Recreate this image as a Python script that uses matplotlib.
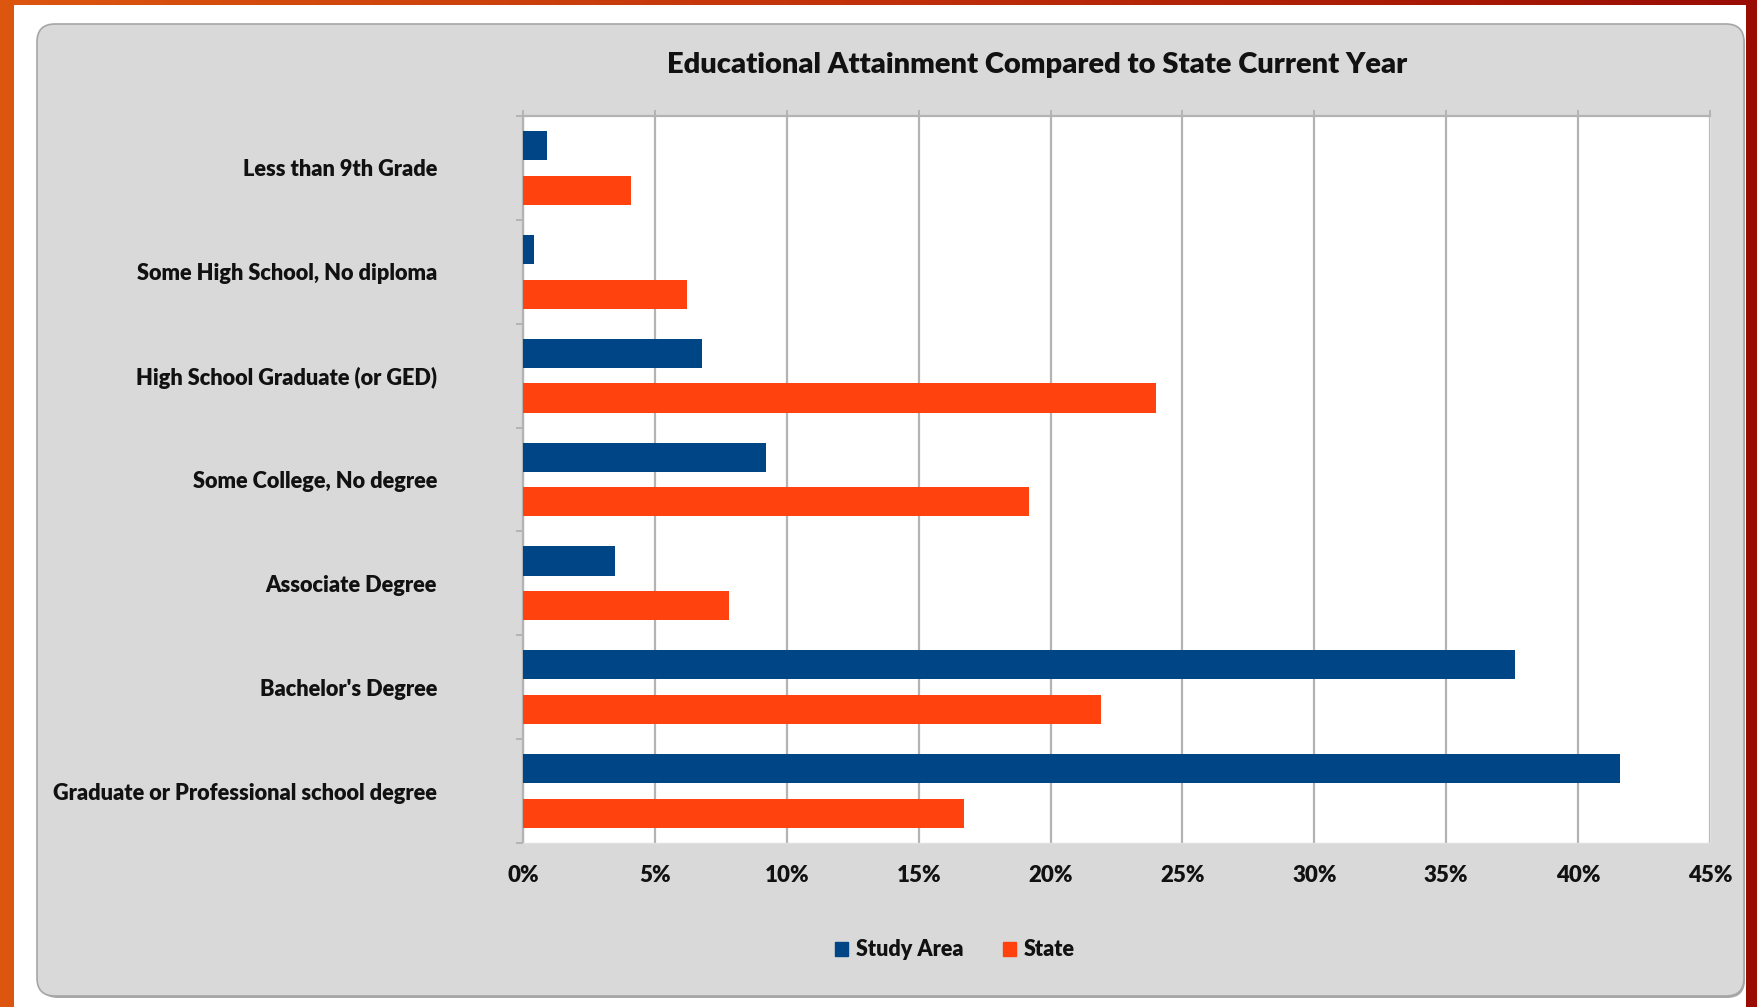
import matplotlib
matplotlib.use("Agg")
import matplotlib.pyplot as plt
import numpy as np
from matplotlib.patches import FancyBboxPatch, Rectangle, Patch

plt.rcParams['font.family'] = ['Lato', 'DejaVu Sans']
plt.rcParams['font.weight'] = 'bold'

# data
categories = ["Less than 9th Grade", "Some High School, No diploma",
              "High School Graduate (or GED)", "Some College, No degree",
              "Associate Degree", "Bachelor's Degree",
              "Graduate or Professional school degree"]
study_area = [0.9, 0.4, 6.8, 9.2, 3.5, 37.6, 41.6]
state = [4.1, 6.2, 24.0, 19.2, 7.8, 21.9, 16.7]
x_ticks = [0, 5, 10, 15, 20, 25, 30, 35, 40, 45]
x_labels = ["%d%%" % t for t in x_ticks]

blue = "#004586"
orange = "#ff420e"
grid_c = "#b3b3b3"
txt_c = "#111111"

W, H = 1757, 1007
fig = plt.figure(figsize=(W / 100, H / 100), dpi=100)

# background: orange/red frame with white page
bg = fig.add_axes([0, 0, 1, 1], zorder=-10)
bg.set_xlim(0, W)
bg.set_ylim(H, 0)
bg.axis('off')
grad = np.linspace(0, 1, 256).reshape(1, -1)
cmap = matplotlib.colors.LinearSegmentedColormap.from_list("frame", ["#dc560f", "#c0300a", "#9a0c02"])
bg.imshow(grad, extent=[0, W, H, 0], aspect='auto', cmap=cmap)
bg.add_patch(Rectangle((14, 5), 1746 - 14, H - 5, facecolor='white', edgecolor='none'))
# grey rounded panel with a light shadow
bg.add_patch(FancyBboxPatch((40, 27), 1745 - 40, 998 - 27,
                            boxstyle="round,pad=0,rounding_size=18",
                            facecolor="#a8a8a8", edgecolor='none'))
bg.add_patch(FancyBboxPatch((37, 24), 1744 - 37, 996 - 24,
                            boxstyle="round,pad=0,rounding_size=18",
                            facecolor="#d9d9d9", edgecolor="#a6a6a6", linewidth=1.2))

# plot area
ax = fig.add_axes([523 / W, 1 - 843 / H, (1710 - 523) / W, (843 - 116) / H])
ax.set_facecolor('white')
y = np.arange(len(categories))
off = 0.215
ax.barh(y - off, study_area, height=0.28, color=blue, label="Study Area", zorder=3)
ax.barh(y + off, state, height=0.28, color=orange, label="State", zorder=3)

ax.set_xlim(0, 45)
ax.set_ylim(len(categories) - 0.5, -0.5)
ax.set_xticks(x_ticks)
ax.set_xticklabels(x_labels, fontsize=16, fontweight='heavy', color=txt_c)
ax.set_yticks(y)
ax.set_yticklabels(categories, fontsize=15.7, fontweight='heavy', color=txt_c)
ax.set_yticks(np.arange(-0.5, len(categories)), minor=True)
ax.grid(axis='x', color=grid_c, linewidth=1.6, zorder=0)
ax.tick_params(axis='x', which='major', top=True, bottom=False, labeltop=False,
               labelbottom=True, direction='out', length=4, color=grid_c, width=1.4, pad=12)
ax.tick_params(axis='y', which='major', length=0, pad=62)
ax.tick_params(axis='y', which='minor', length=5, color=grid_c, width=1.4)
for lbl in ax.get_yticklabels():
    lbl.set_y(lbl.get_position()[1])
for s in ['right', 'bottom']:
    ax.spines[s].set_color('#e0e0e0')
    ax.spines[s].set_linewidth(1.0)
for s in ['top', 'left']:
    ax.spines[s].set_color(grid_c)
    ax.spines[s].set_linewidth(1.6)

fig.text(1037 / W, 1 - 65 / H, "Educational Attainment Compared to State Current Year",
         ha='center', va='center', fontsize=21, fontweight='heavy', color=txt_c)

handles = [Patch(color=blue, label="Study Area"), Patch(color=orange, label="State")]
leg = fig.legend(handles=handles, loc='center', bbox_to_anchor=(955 / W, 1 - 950 / H), ncol=2,
                 frameon=False, handlelength=0.6, handleheight=0.6, handletextpad=0.4,
                 columnspacing=1.8, prop={'size': 15.5, 'weight': 'heavy'})
for t in leg.get_texts():
    t.set_color(txt_c)

fig.savefig("out.png", dpi=100)
